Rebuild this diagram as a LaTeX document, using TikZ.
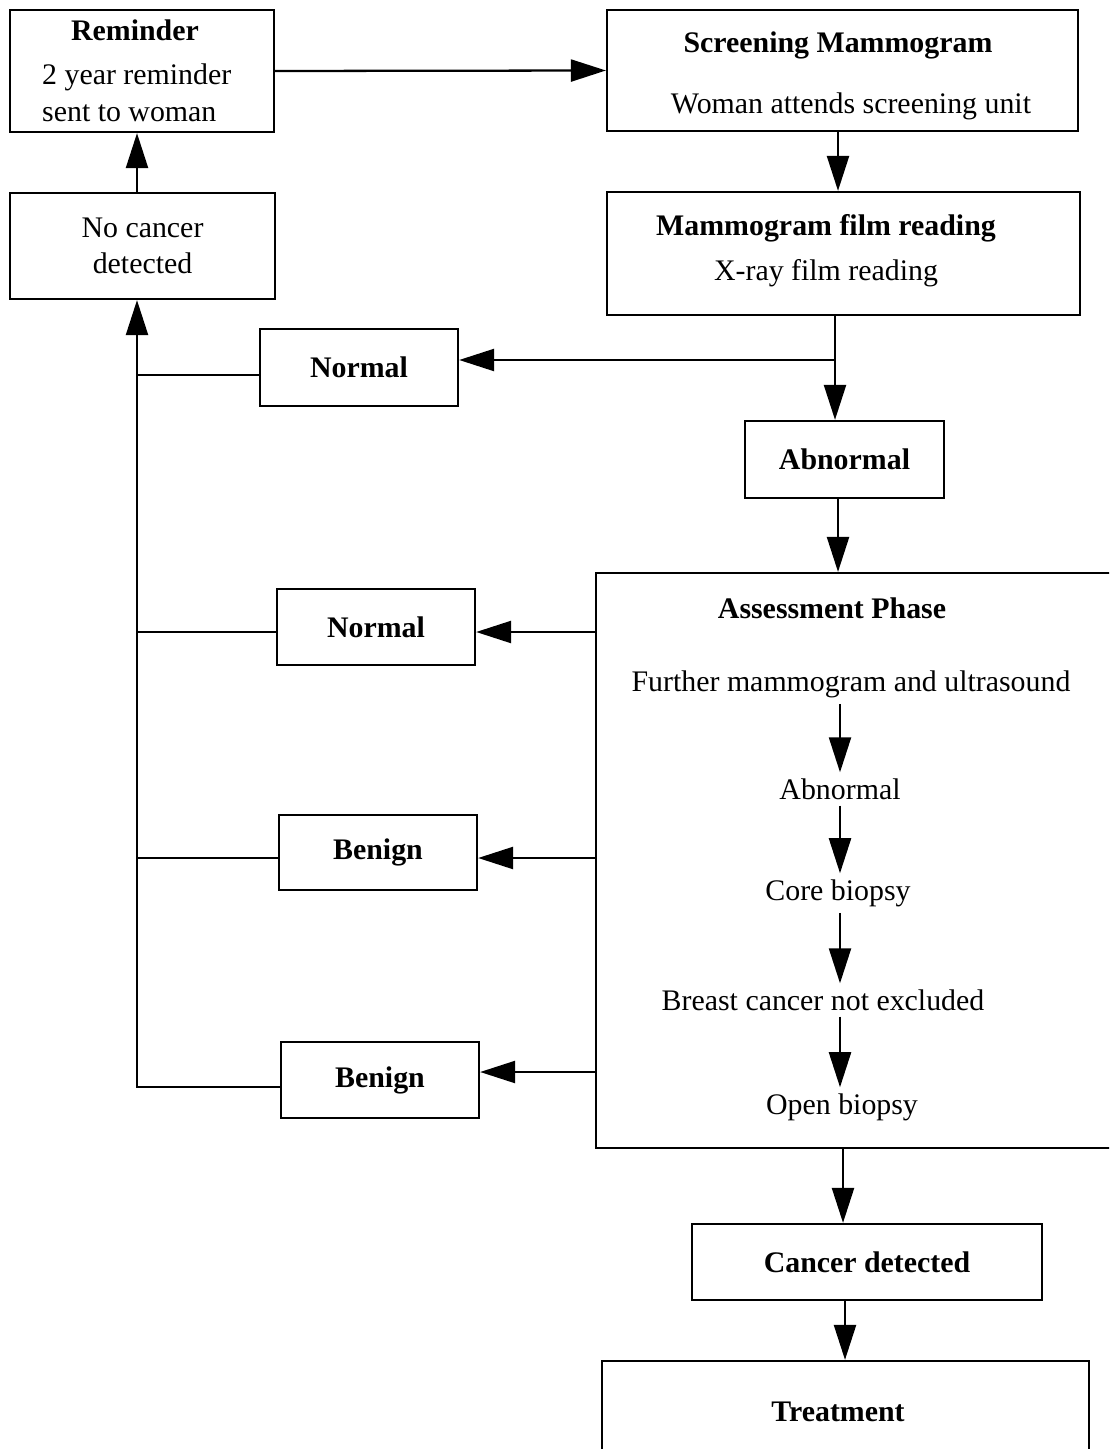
\documentclass[tikz,border=0pt]{standalone}
\usepackage{fontspec}
\setmainfont{Liberation Serif}
\usetikzlibrary{arrows.meta}

\begin{document}
\begin{tikzpicture}[x=0.02cm,y=-0.02cm,
  every node/.style={font=\fontsize{17}{20.5}\selectfont},
  box/.style={draw,line width=1.3pt,inner sep=0pt},
  head/.style={font=\fontsize{17}{20.5}\selectfont\bfseries},
  link/.style={line width=1.3pt},
  arr/.style={line width=1.3pt,-{Triangle[length=0.7cm,width=0.44cm]}}]
  \useasboundingbox (0,0) rectangle (1109,1449);
  \clip (0,0) rectangle (1109,1449);
  % boxes
  \node[box,minimum width=5.28cm,minimum height=2.44cm] (remind) at (142,71) {};
  \node[head] (remindT) at (135,30) {Reminder};
  \node[anchor=west] (remindA) at (36,77) {2 year reminder};
  \node[anchor=west] (remindB) at (36,113) {sent to woman};
  \node[box,minimum width=9.42cm,minimum height=2.42cm] (screen) at (842.5,70.5) {};
  \node[head] (screenT) at (838,45) {Screening Mammogram};
  \node (screenS) at (851,106) {Woman attends screening unit};
  \node[box,align=center,minimum width=5.30cm,minimum height=2.12cm] (nocancer) at (142.5,246) {No cancer\\detected};
  \node[box,minimum width=9.46cm,minimum height=2.46cm] (film) at (843.5,253.5) {};
  \node[head] (filmT) at (826,228) {Mammogram film reading};
  \node (filmS) at (826,273) {X-ray film reading};
  \node[box,head,minimum width=3.96cm,minimum height=1.54cm] (normalA) at (359,367.5) {Normal};
  \node[box,head,minimum width=3.98cm,minimum height=1.54cm] (abnormal) at (844.5,459.5) {Abnormal};
  \node[box,minimum width=10.68cm,minimum height=11.5cm] (assess) at (863,860.5) {};
  \node[head] (assessT) at (832,608) {Assessment Phase};
  \node (further) at (851,684) {Further mammogram and ultrasound};
  \node (abn2) at (840,789) {Abnormal};
  \node (core) at (838,893) {Core biopsy};
  \node (breast) at (823,1000) {Breast cancer not excluded};
  \node (open) at (842,1107) {Open biopsy};
  \node[box,head,minimum width=3.96cm,minimum height=1.52cm] (normalB) at (376,627) {Normal};
  \node[box,head,minimum width=3.96cm,minimum height=1.50cm] (benignA) at (378,852.5) {Benign};
  \node[box,head,minimum width=3.96cm,minimum height=1.52cm] (benignB) at (380,1080) {Benign};
  \node[box,head,minimum width=7.0cm,minimum height=1.52cm] (cancer) at (867,1262) {Cancer detected};
  \node[box,minimum width=9.74cm,minimum height=2.38cm] (treat) at (845.5,1420.5) {};
  \node[head] (treatT) at (838,1412) {Treatment};
  % connectors
  \coordinate (loop) at (137,0);
  \coordinate (spine) at (840,0);
  \coordinate (split) at (835,360);
  \draw[arr] (remind.east) -- (screen.west);
  \draw[arr] (screen.south -| 838,0) -- (film.north -| 838,0);
  \draw[arr] (nocancer.north -| loop) -- (remind.south -| loop);
  \draw[arr] (film.south -| split) -- (split |- abnormal.north);
  \draw[arr] (split) -- (split -| normalA.east);
  \draw[arr] (abnormal.south -| 838,0) -- (assess.north -| 838,0);
  \draw[arr] (assess.west |- 0,632) -- (normalB.east |- 0,632);
  \draw[arr] (assess.west |- 0,858) -- (benignA.east |- 0,858);
  \draw[arr] (assess.west |- 0,1072) -- (benignB.east |- 0,1072);
  \draw[link] (normalA.west |- 0,375) -- (loop |- 0,375);
  \draw[link] (normalB.west |- 0,632) -- (loop |- 0,632);
  \draw[link] (benignA.west |- 0,858) -- (loop |- 0,858);
  \draw[arr] (benignB.west |- 0,1087) -- (loop |- 0,1087) -- (loop |- nocancer.south);
  \draw[arr] (further.south -| spine) -- (abn2.north -| spine);
  \draw[arr] (abn2.south -| spine) -- (core.north -| spine);
  \draw[arr] (core.south -| spine) -- (breast.north -| spine);
  \draw[arr] (breast.south -| spine) -- (open.north -| spine);
  \draw[arr] (assess.south -| 843,0) -- (cancer.north -| 843,0);
  \draw[arr] (cancer.south -| 845,0) -- (treat.north -| 845,0);
\end{tikzpicture}
\end{document}
